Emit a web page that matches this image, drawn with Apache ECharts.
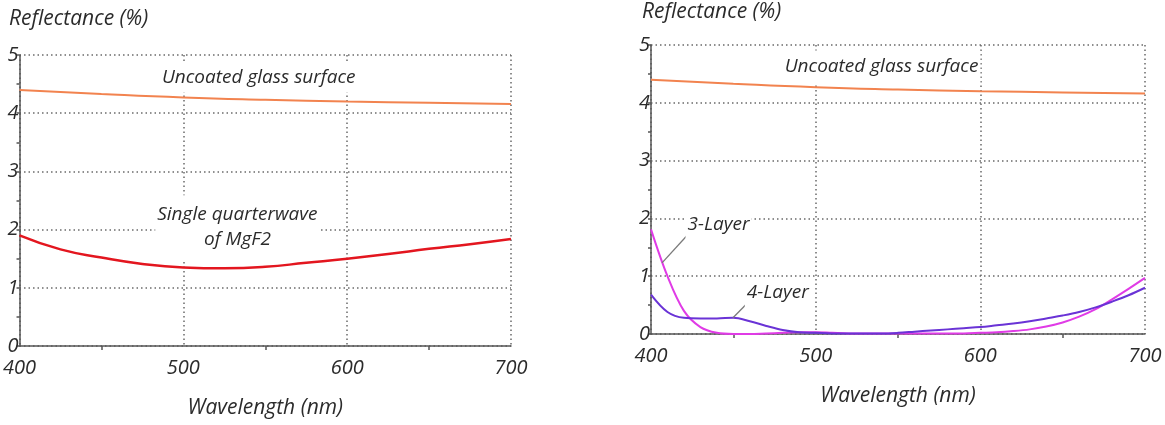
<!DOCTYPE html>
<html>
<head>
<meta charset="utf-8">
<script src="https://cdn.jsdelivr.net/npm/echarts@6/dist/echarts.min.js"></script>
<style>
  html, body { margin: 0; padding: 0; background: #ffffff; }
  #chart { width: 1165px; height: 425px; }
</style>
</head>
<body>
<div id="chart"></div>
<script>
// ---- data ----
const xTickValues = [400, 500, 600, 700];
const yTickValues = [0, 1, 2, 3, 4, 5];

const wlUncoated = [400, 450, 500, 550, 600, 650, 700];
const uncoated   = [4.40, 4.33, 4.27, 4.23, 4.20, 4.18, 4.16];

const wlMgF2 = [400, 425, 450, 475, 500, 525, 550, 575, 600, 625, 650, 675, 700];
const mgf2   = [1.90, 1.66, 1.52, 1.41, 1.35, 1.335, 1.36, 1.43, 1.50, 1.58, 1.67, 1.75, 1.84];

const wlLayers = [400, 410, 420, 430, 440, 450, 460, 470, 480, 490, 500, 510, 520, 530, 540, 550,
                  560, 570, 580, 590, 600, 610, 620, 630, 640, 650, 660, 670, 680, 690, 700];
const layer3 = [1.81, 1.00, 0.40, 0.12, 0.02, 0.00, 0.00, 0.01, 0.02, 0.03, 0.03, 0.02, 0.01, 0.01, 0.01, 0.01,
                0.01, 0.01, 0.01, 0.01, 0.02, 0.03, 0.05, 0.08, 0.13, 0.20, 0.30, 0.43, 0.60, 0.78, 0.97];
const layer4 = [0.68, 0.38, 0.28, 0.27, 0.27, 0.28, 0.22, 0.14, 0.07, 0.03, 0.02, 0.01, 0.01, 0.01, 0.01, 0.02,
                0.04, 0.06, 0.08, 0.10, 0.12, 0.15, 0.18, 0.22, 0.27, 0.32, 0.38, 0.46, 0.56, 0.67, 0.80];

const labelUncoated = 'Uncoated glass surface';
const labelMgF2 = 'Single quarterwave\nof MgF2';
const label3 = '3-Layer';
const label4 = '4-Layer';
const titleText = 'Reflectance (%)';
const xName = 'Wavelength (nm)';

// ---- helpers ----
const zip = (xs, ys) => xs.map((x, i) => [x, ys[i]]);
const FONT = '"Open Sans", "DejaVu Sans", sans-serif';
const TXT = '#2b2b2b';

function mkX(i) {
  return {
    type: 'value', gridIndex: i, min: 400, max: 700, interval: 100,
    axisLine: { show: true, onZero: false, lineStyle: { color: '#555', width: 1.5 } },
    axisTick: { show: false },
    minorTick: { show: true, splitNumber: 2, length: 4, lineStyle: { color: '#555', width: 1.5 } },
    splitLine: { show: true, lineStyle: { color: '#6a6a6a', width: 1.5, type: [1.5, 3] } },
    axisLabel: {
      margin: 12, fontSize: 20, fontStyle: 'italic', color: TXT, fontFamily: FONT,
      formatter: v => (xTickValues.includes(v) ? String(v) : '')
    },
    name: xName, nameLocation: 'middle', nameGap: 52,
    nameTextStyle: { fontSize: 21, fontStyle: 'italic', color: TXT, fontFamily: FONT }
  };
}
function mkY(i) {
  return {
    type: 'value', gridIndex: i, min: 0, max: 5, interval: 1,
    axisLine: { show: true, onZero: false, lineStyle: { color: '#555', width: 1.5 } },
    axisTick: { show: true, length: 3, lineStyle: { color: '#555', width: 1.5 } },
    minorTick: { show: true, splitNumber: 2, length: 3, lineStyle: { color: '#555', width: 1.5 } },
    splitLine: { show: true, lineStyle: { color: '#6a6a6a', width: 1.5, type: [1.5, 3] } },
    axisLabel: {
      margin: 1, fontSize: 20, fontStyle: 'italic', color: TXT, fontFamily: FONT,
      formatter: v => (yTickValues.includes(v) ? String(v) : '')
    }
  };
}
function textPoint(coord, text, pad) {
  return {
    coord: coord, symbol: 'rect', symbolSize: 1,
    itemStyle: { color: 'rgba(0,0,0,0)' },
    label: {
      show: true, position: 'inside', formatter: text,
      fontSize: 19, fontStyle: 'italic', color: TXT, fontFamily: FONT,
      lineHeight: 25, align: 'center',
      backgroundColor: '#ffffff', padding: pad
    }
  };
}
function leader(a, b) {
  return [{ coord: a }, { coord: b }];
}
const leaderStyle = {
  silent: true, symbol: ['none', 'none'],
  lineStyle: { color: '#7a7a7a', width: 1.3, type: 'solid' },
  label: { show: false }, emphasis: { disabled: true }
};
const titleStyle = { fontSize: 21, fontStyle: 'italic', fontWeight: 'normal', color: TXT, fontFamily: FONT };

const chart = echarts.init(document.getElementById('chart'), null, { renderer: 'canvas' });
chart.setOption({
  animation: false,
  backgroundColor: '#ffffff',
  title: [
    { text: titleText, left: 4, top: 4, textStyle: titleStyle },
    { text: titleText, left: 637, top: -3, textStyle: titleStyle }
  ],
  grid: [
    { left: 17, top: 55, width: 494, height: 291 },
    { left: 651, top: 45, width: 494, height: 289 }
  ],
  xAxis: [mkX(0), mkX(1)],
  yAxis: [mkY(0), mkY(1)],
  series: [
    {
      name: 'Uncoated (left)', type: 'line', xAxisIndex: 0, yAxisIndex: 0,
      data: zip(wlUncoated, uncoated), smooth: true, showSymbol: false,
      lineStyle: { color: '#F2834F', width: 2 },
      markPoint: { silent: true, data: [textPoint([546, 4.62], labelUncoated, [3, 2, 3, 2])] }
    },
    {
      name: 'MgF2', type: 'line', xAxisIndex: 0, yAxisIndex: 0,
      data: zip(wlMgF2, mgf2), smooth: true, showSymbol: false,
      lineStyle: { color: '#E3161F', width: 2.5 },
      markPoint: { silent: true, data: [textPoint([533, 2.04], labelMgF2, [8, 2, 6, 2])] }
    },
    {
      name: 'Uncoated (right)', type: 'line', xAxisIndex: 1, yAxisIndex: 1,
      data: zip(wlUncoated, uncoated), smooth: true, showSymbol: false,
      lineStyle: { color: '#F2834F', width: 2 },
      markPoint: { silent: true, data: [textPoint([540, 4.62], labelUncoated, [4, 2, 4, 2])] }
    },
    {
      name: '3-Layer', type: 'line', xAxisIndex: 1, yAxisIndex: 1,
      data: zip(wlLayers, layer3), smooth: 0.35, showSymbol: false,
      lineStyle: { color: '#E03BE6', width: 2 },
      markLine: Object.assign({ data: [leader([406.7, 1.23], [423.7, 1.76])] }, leaderStyle),
      markPoint: { silent: true, data: [textPoint([441, 1.89], label3, [3, 2, 3, 2])] }
    },
    {
      name: '4-Layer', type: 'line', xAxisIndex: 1, yAxisIndex: 1,
      data: zip(wlLayers, layer4), smooth: 0.35, showSymbol: false,
      lineStyle: { color: '#6A33D6', width: 2 },
      markLine: Object.assign({ data: [leader([449.8, 0.28], [458, 0.52])] }, leaderStyle),
      markPoint: { silent: true, data: [textPoint([477, 0.71], label4, [3, 2, 3, 2])] }
    }
  ]
});
</script>
</body>
</html>
